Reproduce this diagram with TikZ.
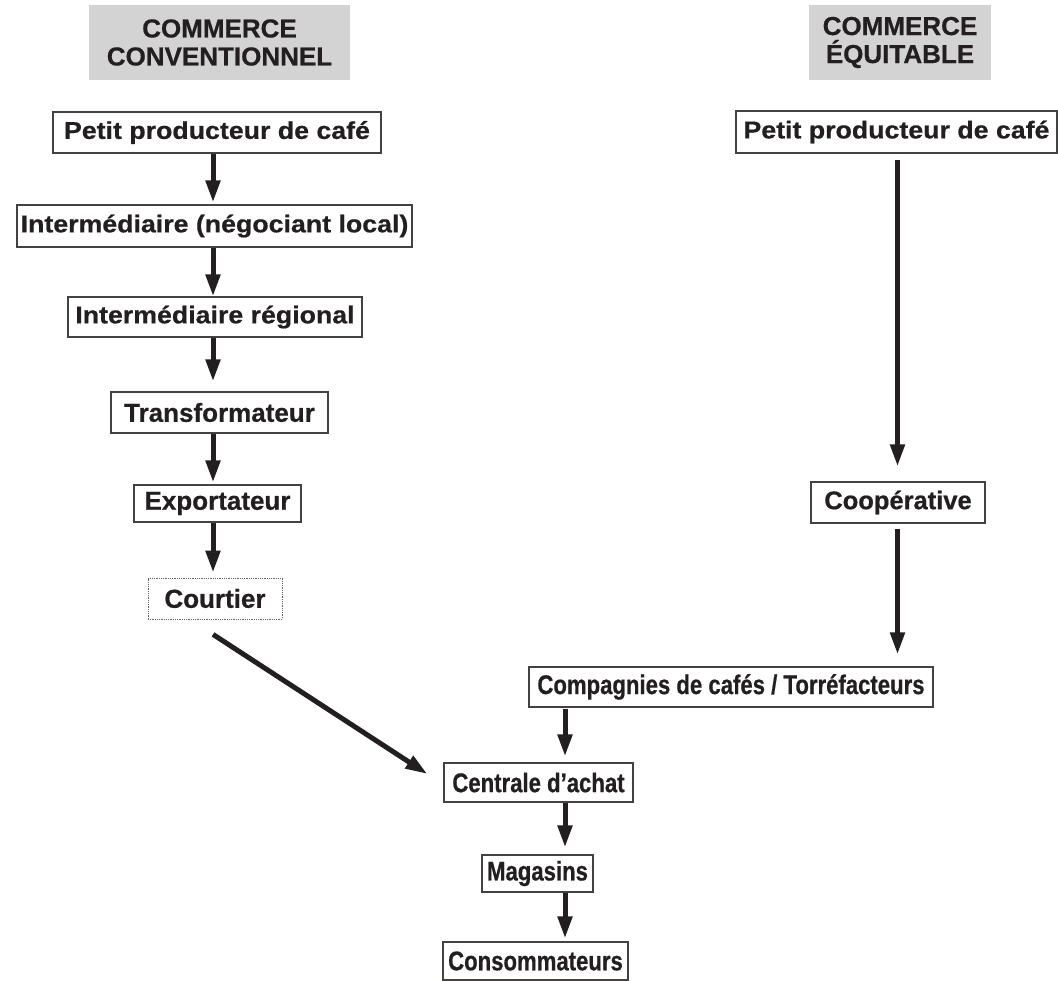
\documentclass[tikz,border=0pt]{standalone}
\usepackage{fontspec}
\setmainfont{Liberation Sans}[FakeBold=0.6]
\newfontfamily\widesans{Liberation Sans}[FakeStretch=1.1,FakeBold=0.6]
\newfontfamily\narrowsans{Liberation Sans}[FakeStretch=0.82,FakeBold=0.6]
\usetikzlibrary{arrows.meta}
\definecolor{headgray}{HTML}{D3D3D3}
\definecolor{ink}{HTML}{231F20}

\begin{document}
\begin{tikzpicture}[x=1pt,y=-1pt,
  box/.style={draw=ink!85,line width=1.2pt,text=ink,inner sep=0pt,minimum height=40pt},
  widebox/.style={box,font=\widesans\bfseries\fontsize{24.3}{28}\selectfont},
  plainbox/.style={box,font=\bfseries\fontsize{26}{30}\selectfont},
  narrowbox/.style={box,font=\narrowsans\bfseries\fontsize{27}{30}\selectfont},
  headbox/.style={fill=headgray,text=ink,align=center,inner sep=0pt,minimum height=75pt,
    font=\bfseries\fontsize{26}{28}\selectfont},
  flowarrow/.style={draw=ink,line width=5pt,-{Triangle[length=22pt,width=14pt]}}]
  \useasboundingbox (0,0) rectangle (1058,981);

  %headers
  \node[headbox,minimum width=261pt] (headconv) at (219.5,42.5) {COMMERCE\\CONVENTIONNEL};
  \node[headbox,minimum width=182pt] (headequi) at (900,42.5) {COMMERCE\\ÉQUITABLE};

  %conventional chain
  \node[widebox,minimum width=328pt,minimum height=41pt] (prodconv) at (217,132.5) {Petit producteur de café};
  \node[widebox,minimum width=395pt,minimum height=42pt] (negoc) at (214.5,226) {Intermédiaire (négociant local)};
  \node[widebox,minimum width=294pt] (regional) at (215,317) {Intermédiaire régional};
  \node[plainbox,minimum width=217pt,minimum height=41pt] (transfo) at (219.5,412.5) {Transformateur};
  \node[plainbox,minimum width=167pt,minimum height=37pt] (export) at (217.5,503.5) {Exportateur};
  \node[plainbox,draw=ink!70,line width=0.8pt,densely dotted,minimum width=134pt,minimum height=41pt]
    (courtier) at (215,598.5) {Courtier};

  %fair trade chain
  \node[widebox,minimum width=321pt,minimum height=42pt] (prodequi) at (896.5,132) {Petit producteur de café};
  \node[plainbox,font=\bfseries\fontsize{25.5}{30}\selectfont,minimum width=174pt,minimum height=41pt]
    (coop) at (898,502.5) {Coopérative};
  \node[narrowbox,minimum width=404pt] (torref) at (731,687) {Compagnies de cafés / Torréfacteurs};

  %shared end
  \node[narrowbox,minimum width=189pt,minimum height=39pt] (centrale) at (538.5,782.5) {Centrale d’achat};
  \node[narrowbox,minimum width=111pt,minimum height=37pt] (magasins) at (537.5,873.5) {Magasins};
  \node[narrowbox,minimum width=185pt,minimum height=38pt] (conso) at (535.5,961) {Consommateurs};

  %arrow axes
  \coordinate (axconv) at (213,0);
  \coordinate (axequi) at (897.5,0);
  \coordinate (axshop) at (565,0);

  %arrows
  \draw[flowarrow,shorten >=2pt] (prodconv.south -| axconv) -- (negoc.north -| axconv);
  \draw[flowarrow] (negoc.south -| axconv) -- (regional.north -| axconv);
  \draw[flowarrow,shorten >=10pt] (regional.south -| axconv) -- (transfo.north -| axconv);
  \draw[flowarrow,shorten >=2pt] (transfo.south -| axconv) -- (export.north -| axconv);
  \draw[flowarrow,shorten >=5pt] (export.south -| axconv) -- (courtier.north -| axconv);
  \draw[flowarrow] ([xshift=-2pt,yshift=-15pt]courtier.south) -- ([xshift=-16pt,yshift=8.5pt]centrale.west);

  \draw[flowarrow,shorten <=6pt,shorten >=15pt] (prodequi.south -| axequi) -- (coop.north -| axequi);
  \draw[flowarrow,shorten <=5pt,shorten >=12pt] (coop.south -| axequi) -- (torref.north -| axequi);

  \draw[flowarrow,shorten <=1pt,shorten >=6pt] (torref.south -| axshop) -- (centrale.north -| axshop);
  \draw[flowarrow,shorten >=7pt] (centrale.south -| axshop) -- (magasins.north -| axshop);
  \draw[flowarrow,shorten >=3pt] (magasins.south -| axshop) -- (conso.north -| axshop);
\end{tikzpicture}
\end{document}
